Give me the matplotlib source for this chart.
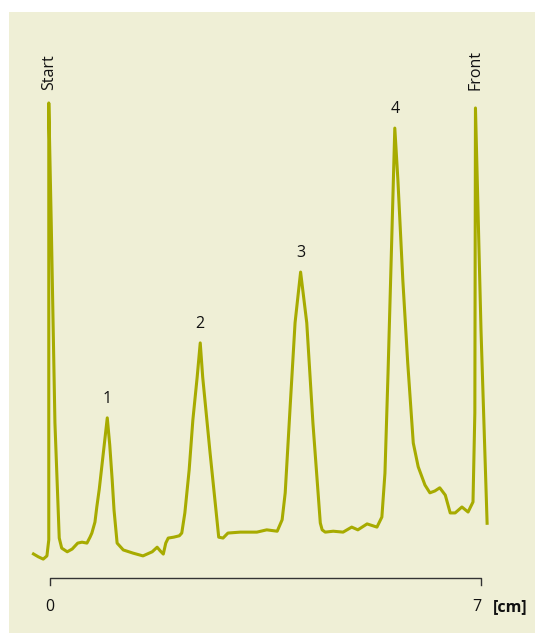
#%% IMPORTS
import matplotlib
matplotlib.use('Agg')
from matplotlib import pyplot as plt
from matplotlib.patches import Rectangle

#%% DATA
# migration distance along the plate [cm]
dist_cm = [-0.29, -0.19, -0.11, -0.05, -0.02, -0.02, 0.02, 0.08, 0.15, 0.19,
           0.28, 0.36, 0.45, 0.52, 0.60, 0.65, 0.68, 0.73, 0.76, 0.80,
           0.85, 0.89, 0.93, 0.97, 1.01, 1.04, 1.09, 1.19, 1.35, 1.51,
           1.66, 1.74, 1.79, 1.84, 1.88, 1.92, 2.01, 2.10, 2.14, 2.19,
           2.26, 2.32, 2.39, 2.44, 2.48, 2.60, 2.70, 2.74, 2.81, 2.89,
           3.09, 3.36, 3.52, 3.69, 3.77, 3.82, 3.90, 3.98, 4.07, 4.17,
           4.27, 4.39, 4.42, 4.47, 4.60, 4.76, 4.90, 5.00, 5.15, 5.31,
           5.39, 5.44, 5.49, 5.55, 5.60, 5.65, 5.73, 5.81, 5.90, 5.98,
           6.09, 6.17, 6.25, 6.33, 6.42, 6.50, 6.58, 6.69, 6.79, 6.87,
           6.90, 6.91, 7.00, 7.10]

# detector signal (relative units)
signal = [1.5, 0.7, 0.2, 0.9, 4.4, 100.0, 73.7, 30.0, 4.8, 2.6,
          1.8, 2.4, 3.7, 3.9, 3.7, 5.0, 5.9, 8.3, 11.6, 15.5,
          21.5, 26.3, 31.1, 25.2, 17.5, 10.9, 3.7, 2.2, 1.5, 0.9,
          1.8, 2.8, 2.0, 1.3, 3.7, 4.8, 5.0, 5.3, 5.9, 10.3,
          19.7, 30.6, 40.0, 47.5, 40.0, 23.4, 10.3, 5.0, 4.8, 5.9,
          6.1, 6.1, 6.6, 6.3, 8.8, 14.7, 33.5, 51.9, 63.0, 51.9,
          30.0, 8.1, 6.6, 6.1, 6.3, 6.1, 7.2, 6.6, 7.9, 7.2,
          9.4, 19.0, 40.9, 70.0, 94.5, 83.2, 61.3, 43.1, 25.6, 20.4,
          16.4, 14.7, 15.1, 15.8, 14.2, 10.3, 10.3, 11.6, 10.5, 12.7,
          32.2, 98.9, 50.3, 7.7]

# spot labels at the peak maxima
spot_names = ['1', '2', '3', '4']
spot_x = [0.93, 2.44, 4.07, 5.60]
spot_y = [31.1, 47.5, 63.0, 94.5]

# start line and solvent front
marker_names = ['Start', 'Front']
marker_x = [-0.02, 6.91]

scale_ticks = [0, 7]
scale_unit = '[cm]'

#%% CONFIGURATION
plt.rcParams['font.family'] = ['Open Sans', 'DejaVu Sans']
bg_color = '#efefd6'
line_color = '#a7ab00'
ink = '#111111'
font_size = 11.5

#%% PLOT
fig = plt.figure(figsize=(5.35, 6.33), dpi=100)
fig.patch.set_facecolor('white')

# panel background, kept behind the axes
fig.patches.append(Rectangle((9 / 535, 0), 1 - 9 / 535, 1 - 12 / 633,
                             transform=fig.transFigure, facecolor=bg_color,
                             edgecolor='none', zorder=-5))

ax = fig.add_axes([9 / 535, 0, 1 - 9 / 535, 1 - 12 / 633])
ax.set_facecolor('none')
ax.set_xlim(-0.666, 7.877)
ax.set_ylim(-15.97, 119.9)
ax.axis('off')

ax.plot(dist_cm, signal, color=line_color, lw=2.2,
        solid_joinstyle='round', solid_capstyle='butt')

for name, x, y in zip(spot_names, spot_x, spot_y):
    ax.annotate(name, (x, y), xytext=(0, 8), textcoords='offset points',
                ha='center', va='bottom', fontsize=font_size, color=ink)

for name, x in zip(marker_names, marker_x):
    ax.text(x, 102.8, name, rotation=90, ha='center', va='bottom',
            fontsize=font_size, color=ink)

# scale bar along the plate
bar_y = -3.94
tick_y = -5.47
ax.plot([scale_ticks[0], scale_ticks[0], scale_ticks[1], scale_ticks[1]],
        [tick_y, bar_y, bar_y, tick_y], color='#333333', lw=1.0)
ax.text(scale_ticks[0], -10.3, str(scale_ticks[0]), ha='center', va='center',
        fontsize=font_size, color=ink)
ax.text(scale_ticks[1], -10.3, str(scale_ticks[1]), ha='right', va='center',
        fontsize=font_size, color=ink)
ax.text(7.2, -10.3, scale_unit, ha='left', va='center', fontsize=font_size,
        fontweight='bold', color=ink)

fig.savefig('out.png', dpi=100, facecolor=fig.get_facecolor())
